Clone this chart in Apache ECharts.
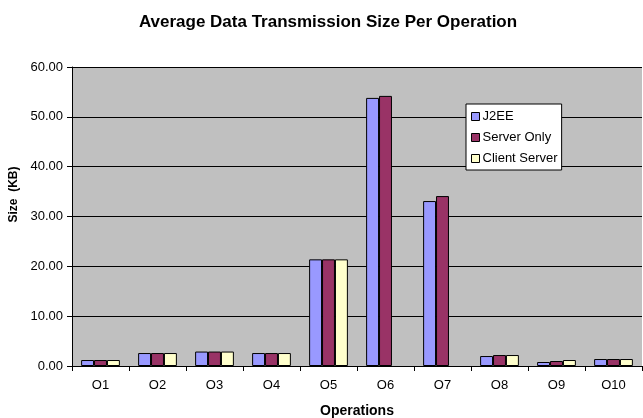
<!DOCTYPE html>
<html><head><meta charset="utf-8">
<script src="https://cdn.jsdelivr.net/npm/echarts@6/dist/echarts.min.js"></script>
<style>html,body{margin:0;padding:0;background:#fff}#c{width:643px;height:418px}</style>
</head><body><div id="c"></div>
<script>
var categories = ['O1','O2','O3','O4','O5','O6','O7','O8','O9','O10'];
var j2ee = [1.2, 2.6, 2.9, 2.6, 21.4, 53.8, 33.1, 2.0, 0.8, 1.4];
var serverOnly = [1.2, 2.6, 2.9, 2.6, 21.4, 54.2, 34.1, 2.2, 1.0, 1.4];
var clientServer = [1.2, 2.6, 2.9, 2.6, 21.4, null, null, 2.2, 1.2, 1.4];
var yTicks = [0, 10, 20, 30, 40, 50, 60];

var font = 'Liberation Sans, Arial, sans-serif';
var chart = echarts.init(document.getElementById('c'), null, {renderer:'canvas'});
function bar(name, data, color) {
  return {name:name, type:'bar', data:data, barGap:'0%', barCategoryGap:'32%',
    itemStyle:{color:color, borderColor:'#000', borderWidth:1}, animation:false};
}
chart.setOption({
  animation:false,
  title:{text:'Average Data Transmission Size Per Operation', left:323, textAlign:'center', top:9,
    textStyle:{fontFamily:font, fontSize:17, fontWeight:'bold', color:'#000'}},
  grid:{left:72, right:1, top:67, bottom:52, show:true, backgroundColor:'#C0C0C0', borderWidth:0,
    containLabel:false, outerBoundsMode:'none'},
  legend:{orient:'vertical', left:466, top:104, backgroundColor:'#fff', borderColor:'#000', borderWidth:1,
    padding:[6,4,5,5], itemWidth:8, itemHeight:8, itemGap:8, icon:'rect',
    itemStyle:{borderColor:'#000', borderWidth:1},
    textStyle:{fontFamily:font, fontSize:13, color:'#000', lineHeight:13, padding:[0,0,0,-2]},
    data:['J2EE','Server Only','Client Server']},
  xAxis:{type:'category', data:categories, name:'Operations', nameLocation:'middle', nameGap:38,
    nameTextStyle:{fontFamily:font, fontSize:14, fontWeight:'bold', color:'#000'},
    axisLine:{lineStyle:{color:'#000', width:1}},
    axisTick:{show:true, alignWithLabel:false, length:5, lineStyle:{color:'#000'}},
    axisLabel:{fontFamily:font, fontSize:13, color:'#000', margin:13},
    splitLine:{show:false}},
  yAxis:{type:'value', min:yTicks[0], max:yTicks[yTicks.length-1], interval:10,
    name:'Size  (KB)', nameLocation:'middle', nameGap:41, nameRotate:90,
    nameTextStyle:{fontFamily:font, fontSize:12, fontWeight:'bold', color:'#000', padding:[0,0,0,44]},
    axisLine:{show:true, lineStyle:{color:'#000', width:1}},
    axisTick:{show:true, length:5, lineStyle:{color:'#000'}},
    axisLabel:{fontFamily:font, fontSize:13, color:'#000', margin:9,
      formatter:function(v){return v.toFixed(2);}},
    splitLine:{show:true, lineStyle:{color:'#000', width:1}}},
  series:[bar('J2EE', j2ee, '#9999FF'), bar('Server Only', serverOnly, '#993366'), bar('Client Server', clientServer, '#FFFFCC')]
});
</script></body></html>
